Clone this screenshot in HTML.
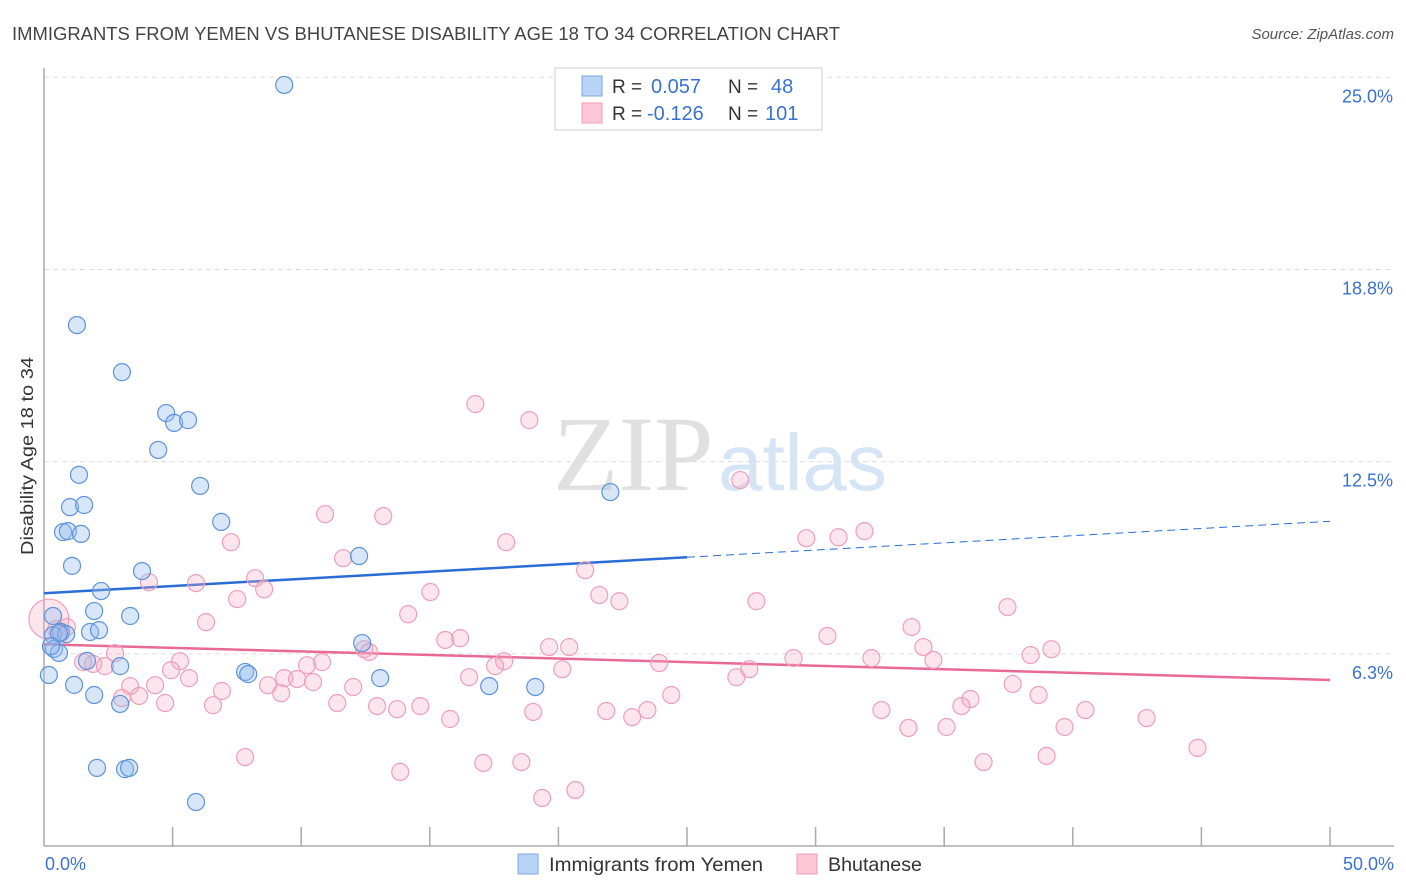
<!DOCTYPE html>
<html><head><meta charset="utf-8"><style>
body{margin:0;background:#fff;font-family:"Liberation Sans",sans-serif;}
svg{display:block}
</style></head><body>
<svg id="chart" width="1406" height="892">
<text x="12" y="40" font-size="18.5" fill="#444" textLength="828" lengthAdjust="spacingAndGlyphs">IMMIGRANTS FROM YEMEN VS BHUTANESE DISABILITY AGE 18 TO 34 CORRELATION CHART</text>
<text x="1394" y="39" font-size="15" fill="#555" font-style="italic" text-anchor="end">Source: ZipAtlas.com</text>
<text x="33" y="555" font-size="17.5" fill="#333" textLength="198" lengthAdjust="spacingAndGlyphs" transform="rotate(-90 33 555)">Disability Age 18 to 34</text>
<g>
<text x="553" y="490" font-size="107" fill="#e0e0e0" font-family="Liberation Serif,serif">ZIP</text>
<text x="718" y="490" font-size="80" fill="#d6e5f5">atlas</text>
</g>
<g id="grid"></g><g id="axes"></g><g id="trends"></g><g id="pts"></g>
<g>
<rect x="555" y="68" width="267" height="62" fill="#fff" stroke="#ccc"/>
<rect x="582" y="76" width="20" height="20" fill="#b9d3f5" stroke="#7ba6e3"/>
<rect x="582" y="103" width="20" height="20" fill="#fcc7d6" stroke="#ee9db5"/>
<text x="612" y="93" font-size="19" fill="#333">R = </text><text x="651" y="93" font-size="20" fill="#3a72d0">0.057</text>
<text x="728" y="93" font-size="19" fill="#333">N = </text><text x="771" y="93" font-size="20" fill="#3a72d0">48</text>
<text x="612" y="120" font-size="19" fill="#333">R = </text><text x="647" y="120" font-size="20" fill="#3a72d0">-0.126</text>
<text x="728" y="120" font-size="19" fill="#333">N = </text><text x="765" y="120" font-size="20" fill="#3a72d0">101</text>
</g>
<g>
<rect x="518" y="854" width="20" height="20" fill="#b9d3f5" stroke="#7ba6e3"/>
<text x="549" y="871" font-size="19.5" fill="#333" textLength="214" lengthAdjust="spacingAndGlyphs">Immigrants from Yemen</text>
<rect x="797" y="854" width="20" height="20" fill="#fcc7d6" stroke="#ee9db5"/>
<text x="828" y="871" font-size="19.5" fill="#333" textLength="94" lengthAdjust="spacingAndGlyphs">Bhutanese</text>
</g>
</svg>
<script>
const yTicks=[6.25,12.5,18.75,25];
const yTickLabels=["6.3%","12.5%","18.8%","25.0%"];
const xTickLabels=["0.0%","50.0%"];
const yemenX=[9.34,1.28,3.03,4.75,5.06,5.60,4.44,1.36,6.07,22.02,1.01,1.56,6.89,0.74,0.93,1.44,12.25,1.09,3.81,2.22,1.95,3.35,0.35,1.79,2.14,0.66,0.35,0.86,12.37,0.39,0.58,1.67,2.96,7.82,7.94,0.19,13.07,1.17,17.31,19.10,1.95,2.96,2.06,3.15,3.31,5.91,0.58,0.27];
const yemenY=[24.75,16.94,15.41,14.08,13.76,13.85,12.88,12.07,11.71,11.51,11.02,11.09,10.54,10.21,10.24,10.15,9.43,9.11,8.94,8.29,7.64,7.48,7.48,6.96,7.02,6.96,6.86,6.89,6.60,6.41,6.28,6.02,5.85,5.66,5.59,5.56,5.46,5.24,5.20,5.17,4.91,4.62,2.54,2.50,2.54,1.43,6.92,6.50];
const bhutX=[16.77,18.87,27.07,10.93,13.19,17.97,29.64,30.89,31.90,7.27,11.63,21.04,8.21,5.91,4.08,8.56,7.51,15.02,21.59,22.37,27.70,37.46,14.16,6.30,0.89,0.66,30.46,33.73,15.60,16.18,19.64,20.42,34.19,39.17,38.36,12.45,12.64,2.76,5.29,10.81,10.23,29.14,32.17,23.92,17.89,17.54,34.58,20.15,27.42,1.52,1.91,2.37,4.94,9.34,9.84,8.71,10.46,5.64,26.92,3.35,4.32,12.02,16.53,37.66,24.39,6.92,9.22,3.70,3.03,38.67,36.02,11.40,4.71,6.57,12.95,14.63,13.73,35.67,32.56,40.49,21.86,23.46,19.02,15.79,22.87,42.87,33.61,35.09,39.68,7.82,44.85,38.98,17.08,18.56,36.53,13.85,20.66,19.37,0.19,0.47];
const bhutY=[14.37,13.85,11.90,10.79,10.73,9.88,10.01,10.04,10.24,9.88,9.36,8.97,8.71,8.55,8.58,8.35,8.03,8.26,8.16,7.96,7.96,7.77,7.54,7.28,7.12,6.92,6.83,7.12,6.70,6.76,6.47,6.47,6.47,6.40,6.21,6.40,6.31,6.27,6.01,5.98,5.88,6.11,6.11,5.95,6.01,5.85,6.05,5.75,5.75,5.98,5.92,5.85,5.72,5.46,5.43,5.23,5.33,5.46,5.49,5.20,5.23,5.17,5.49,5.27,4.91,5.04,4.97,4.88,4.81,4.91,4.78,4.65,4.65,4.58,4.55,4.55,4.45,4.55,4.42,4.42,4.39,4.42,4.36,4.13,4.19,4.16,3.84,3.87,3.87,2.89,3.19,2.93,2.70,2.73,2.73,2.41,1.82,1.56,7.38,7.05];
const yemenTrend=[8.22,10.56];
const bhutTrend=[6.56,5.40];
const NS="http://www.w3.org/2000/svg";
const X0=44,X1=1330,Y0=846;
const sx=v=>X0+(X1-X0)*v/50;
const sy=v=>Y0-v*30.75;
function mk(tag,attrs,parent){const e=document.createElementNS(NS,tag);for(const k in attrs)e.setAttribute(k,attrs[k]);document.getElementById(parent).appendChild(e);return e;}
yTicks.forEach((t,i)=>{
 const g=mk('line',{x1:X0,x2:1394,y1:sy(t),y2:sy(t),stroke:'#ddd','stroke-dasharray':'5,4'},'grid');
 
 
 const l=mk('text',{x:1393,y:sy(t)+25,'font-size':18,fill:'#3a72d0','text-anchor':'end'},'grid');
 l.textContent=yTickLabels[i];
 
 
});
let a=mk('line',{x1:X0,x2:X0,y1:68,y2:Y0,stroke:'#aaa','stroke-width':1.5},'axes');


a=mk('line',{x1:X0,x2:1394,y1:Y0,y2:Y0,stroke:'#aaa','stroke-width':1.5},'axes');


for(let i=1;i<=10;i++){const t=mk('line',{x1:sx(i*5),x2:sx(i*5),y1:827,y2:Y0,stroke:'#aaa','stroke-width':1.5},'axes');
 
 }
[[0,'start',45],[50,'end',1394]].forEach((d,i)=>{const t=mk('text',{x:d[2],y:870,'font-size':18,fill:'#3a72d0','text-anchor':d[1]},'axes');t.textContent=xTickLabels[i];
 
 });
let tl=mk('line',{x1:sx(0),y1:sy(yemenTrend[0]),x2:sx(25),y2:sy((yemenTrend[0]+yemenTrend[1])/2),stroke:'#2a6dd6','stroke-width':2.5},'trends');


tl=mk('line',{x1:sx(25),y1:sy((yemenTrend[0]+yemenTrend[1])/2),x2:sx(50),y2:sy(yemenTrend[1]),stroke:'#2a6dd6','stroke-width':1,'stroke-dasharray':'8,5'},'trends');


tl=mk('line',{x1:sx(0),y1:sy(bhutTrend[0]),x2:sx(50),y2:sy(bhutTrend[1]),stroke:'#e86a94','stroke-width':2.5},'trends');


bhutX.forEach((v,i)=>{const r=(i===bhutX.length-2)?20:8.5;
 const c=mk('circle',{cx:sx(v),cy:sy(bhutY[i]),r:r,fill:'rgba(248,170,195,0.3)',stroke:'#ef9fb8','stroke-width':1.2},'pts');
 
 });
yemenX.forEach((v,i)=>{const c=mk('circle',{cx:sx(v),cy:sy(yemenY[i]),r:8.5,fill:'rgba(150,190,240,0.38)',stroke:'#5e93dc','stroke-width':1.2},'pts');
 
 });
</script>
</body></html>
